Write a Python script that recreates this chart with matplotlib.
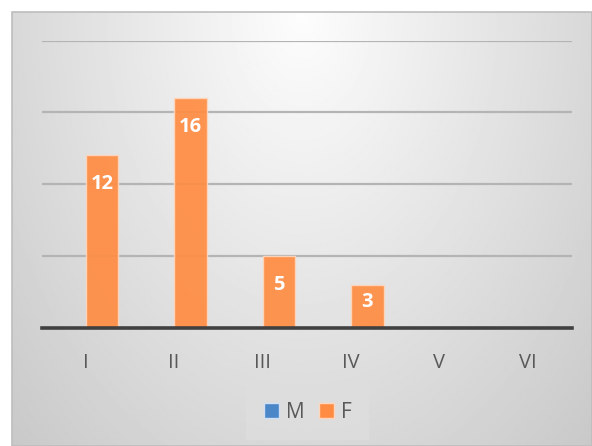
import numpy as np
import matplotlib
matplotlib.use("Agg")
import matplotlib.pyplot as plt
from matplotlib.patches import Rectangle

categories = ["I", "II", "III", "IV", "V", "VI"]
m_values = [0, 0, 0, 0, 0, 0]
f_values = [12, 16, 5, 3, 0, 0]
series_names = ["M", "F"]

BLUE = "#4a86c8"
ORANGE = "#ff8c42"
TEXT = "#595959"

W, H = 592, 446
fig = plt.figure(figsize=(W / 100, H / 100), dpi=100)
fig.patch.set_facecolor("white")

# chart area background: elliptical gradient, light at top centre
left_px, top_px = 12, 12
bg = fig.add_axes([left_px / W, 0, (W - left_px) / W, (H - top_px) / H])
gx = np.linspace(-1, 1, 400)
gy = np.linspace(0, 1, 300)
xx, yy = np.meshgrid(gx, gy)
r = np.sqrt(xx ** 2 + yy ** 2)
shade = (253 - 37 * r) / 255
bg.imshow(shade, cmap="gray", vmin=0, vmax=1, aspect="auto",
          extent=[0, 1, 1, 0], interpolation="bilinear")
bg.set_xlim(0, 1)
bg.set_ylim(1, 0)
bg.axis("off")
fig.add_artist(Rectangle((left_px / W, 0), (W - left_px) / W, (H - top_px) / H,
                         transform=fig.transFigure, fill=False,
                         edgecolor="#bdbdbd", linewidth=1.2))

# plot area
ax = fig.add_axes([41.5 / W, (H - 327.7) / H, 530.5 / W, 287 / H])
ax.set_facecolor("none")
x = np.arange(len(categories))
w = 0.37
ax.bar(x - w / 2, m_values, w, color=BLUE, edgecolor="#cfe0f5", linewidth=1, alpha=0.92)
bars = ax.bar(x + w / 2, f_values, w, color=ORANGE, edgecolor="#ffd6bd",
              linewidth=1, alpha=0.92)

ax.set_xlim(-0.5, len(categories) - 0.5)
ax.set_ylim(0, 20)
ax.set_yticks([5, 10, 15, 20])
ax.yaxis.grid(True, color="#b4b4b4", linewidth=1.6)
ax.set_axisbelow(True)
ax.tick_params(axis="y", left=False, labelleft=False)
for s in ["top", "right", "left"]:
    ax.spines[s].set_visible(False)
ax.spines["bottom"].set_color("#404040")
ax.spines["bottom"].set_linewidth(2.6)
ax.set_xticks(x)
ax.set_xticklabels(categories, fontsize=14.5, color=TEXT, family="Open Sans")
ax.tick_params(axis="x", length=0, pad=18)

for b, v in zip(bars, f_values):
    if v <= 0:
        continue
    ly = max(v - 2, v * 0.6)
    ax.text(b.get_x() + b.get_width() / 2, ly, str(v), ha="center", va="center",
            color="white", fontsize=14.5, fontweight="bold", family="Open Sans")

handles = [Rectangle((0, 0), 1, 1, facecolor=BLUE, edgecolor="#cfe0f5"),
           Rectangle((0, 0), 1, 1, facecolor=ORANGE, edgecolor="#ffd6bd")]
leg = fig.legend(handles, series_names, loc="center",
                 bbox_to_anchor=(307.5 / W, 1 - 412 / H), ncol=2,
                 frameon=True, fancybox=False, handlelength=0.75, handleheight=0.75,
                 handletextpad=0.3, columnspacing=0.7, borderpad=0.85,
                 borderaxespad=0, prop={"family": "Open Sans", "size": 15})
leg.get_frame().set_facecolor("#dedede")
leg.get_frame().set_edgecolor("none")
for t in leg.get_texts():
    t.set_color(TEXT)

fig.savefig("out.png", dpi=100)
